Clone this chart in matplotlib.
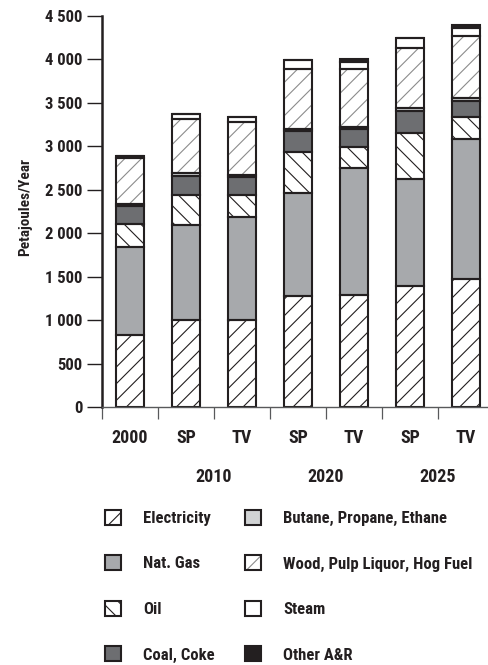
import matplotlib
matplotlib.use("Agg")
import matplotlib.pyplot as plt
import matplotlib.font_manager as fm
import matplotlib.transforms as mtrans
from matplotlib.patches import Rectangle
from matplotlib.font_manager import FontProperties
import numpy as np

# ---------------- data ----------------
categories = ["2000", "SP", "TV", "SP", "TV", "SP", "TV"]
group_labels = ["2010", "2020", "2025"]
group_positions = [1.5, 3.5, 5.5]

electricity = [828, 1005, 1005, 1275, 1293, 1395, 1470]
nat_gas     = [1017, 1095, 1185, 1190, 1462, 1225, 1620]
oil         = [260, 340, 250, 465, 240, 530, 245]
coal_coke   = [205, 220, 205, 250, 200, 255, 187]
butane      = [30, 30, 25, 25, 25, 35, 33]
wood        = [522, 622, 605, 688, 673, 690, 710]
steam       = [28, 60, 58, 97, 79, 122, 100]
other_ar    = [0, 0, 0, 0, 28, 0, 27]

yticks = [0, 500, 1000, 1500, 2000, 2500, 3000, 3500, 4000, 4500]
ytick_labels = ["0", "500", "1 000", "1 500", "2 000", "2 500", "3 000",
                "3 500", "4 000", "4 500"]
ylabel = "Petajoules/Year"

# ---------------- font ----------------
names = {f.name for f in fm.fontManager.ttflist}
FAM, STRETCH = "DejaVu Sans", "normal"
if "Roboto Condensed" in names:
    FAM = "Roboto Condensed"
elif "Liberation Sans Narrow" in names:
    FAM = "Liberation Sans Narrow"
elif any(f.name == "DejaVu Sans" and f.stretch == "condensed" for f in fm.fontManager.ttflist):
    FAM, STRETCH = "DejaVu Sans", "condensed"
elif "Open Sans Condensed" in names:
    FAM = "Open Sans Condensed"

def fp(size):
    return FontProperties(family=FAM, weight="bold", stretch=STRETCH, size=size)

INK = "#231f20"

W, H = 489, 665
fig = plt.figure(figsize=(W / 100, H / 100), dpi=100)
fig.patch.set_facecolor("white")

# axes: left 102px, bottom at 407px, top at 16px, category width 56px
ax = fig.add_axes([102 / W, (H - 407) / H, 392 / W, 391 / H])
ax.set_xlim(-0.5, 6.5)
ax.set_ylim(0, 4500)

series = [
    ("Electricity", electricity, "white", INK, "//"),
    ("Nat. Gas", nat_gas, "#a7a9ac", INK, None),
    ("Oil", oil, "white", INK, "\\\\"),
    ("Coal, Coke", coal_coke, "#6d6e71", INK, None),
    ("Butane, Propane, Ethane", butane, "#d1d3d4", INK, None),
    ("Wood, Pulp Liquor, Hog Fuel", wood, "white", "#8c8c8c", "//"),
    ("Steam", steam, "white", INK, None),
    ("Other A&R", other_ar, INK, INK, None),
]

plt.rcParams["hatch.linewidth"] = 0.8
x = np.arange(len(categories))
bottom = np.zeros(len(categories))
bw = 0.5
for name, vals, face, hcol, hatch in series:
    vals = np.array(vals, dtype=float)
    ax.bar(x, vals, bw, bottom=bottom, color=face, edgecolor=hcol,
           hatch=hatch, linewidth=0, zorder=2)
    ax.bar(x, vals, bw, bottom=bottom, fill=False, edgecolor=INK,
           linewidth=1.5, zorder=3)
    bottom += vals

# spines
for s in ["top", "right"]:
    ax.spines[s].set_visible(False)
ax.spines["left"].set_linewidth(1.8)
ax.spines["left"].set_color(INK)
ax.spines["bottom"].set_linewidth(1.0)
ax.spines["bottom"].set_color("#58595b")
ax.spines["bottom"].set_zorder(4)

# y ticks
ax.set_yticks(yticks)
ax.set_yticklabels(ytick_labels, fontproperties=fp(12), color=INK)
ax.tick_params(axis="y", length=11, width=1.0, color=INK, pad=3)

# x ticks
ax.set_xticks(x)
ax.set_xticklabels(categories, fontproperties=fp(13), color=INK)
for lbl in ax.get_xticklabels():
    lbl.set_va("baseline")
ax.tick_params(axis="x", which="major", length=0, pad=26)
ax.set_xticks(np.arange(-0.5, 7.0, 1.0), minor=True)
ax.tick_params(axis="x", which="minor", length=8.5, width=0.9, color="#58595b")

# group year labels
trans = mtrans.blended_transform_factory(ax.transData, fig.transFigure)
for gx, gl in zip(group_positions, group_labels):
    ax.text(gx, 1 - 482 / H, gl, transform=trans, ha="center", va="baseline",
            fontproperties=fp(13), color=INK, clip_on=False)

# y label
fig.text(25 / W, 1 - 207 / H, ylabel, rotation=90, ha="center", va="center",
         fontproperties=fp(11), color=INK)

# legend (manual, two columns)
leg_cols = [(105, 143), (245, 283)]
leg_rows = [517, 562.5, 608, 653.5]
for i, (name, vals, face, hcol, hatch) in enumerate(series):
    col, row = divmod(i, 4)
    px, tx = leg_cols[col]
    cy = leg_rows[row]
    r = Rectangle((px / W, 1 - (cy + 7.5) / H), 16 / W, 15 / H,
                  transform=fig.transFigure, facecolor=face, edgecolor=hcol,
                  hatch=hatch, linewidth=0)
    fig.add_artist(r)
    r2 = Rectangle((px / W, 1 - (cy + 7.5) / H), 16 / W, 15 / H,
                   transform=fig.transFigure, fill=False, edgecolor=INK,
                   linewidth=1.5)
    fig.add_artist(r2)
    fig.text(tx / W, 1 - (cy + 6) / H, name, ha="left", va="baseline",
             fontproperties=fp(12), color=INK)

fig.savefig("out.png", dpi=100, facecolor="white")
